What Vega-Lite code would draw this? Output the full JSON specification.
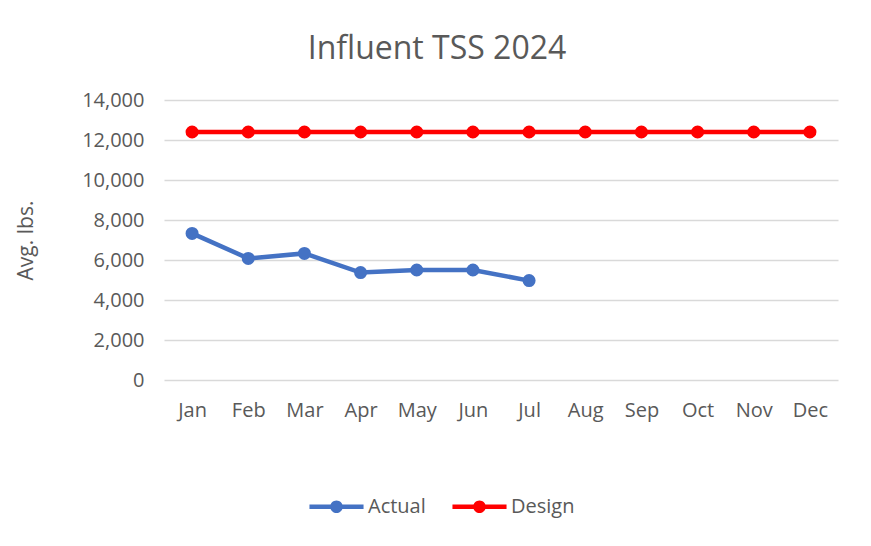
{
  "$schema": "https://vega.github.io/schema/vega-lite/v6.json",
  "width": 674,
  "height": 280,
  "autosize": {"type": "none"},
  "padding": {"left": 164, "top": 100, "right": 33, "bottom": 166},
  "background": "white",
  "title": {
    "text": "Influent TSS 2024",
    "font": "Open Sans",
    "fontSize": 32,
    "fontWeight": "normal",
    "color": "#595959",
    "anchor": "middle",
    "offset": 24,
    "dx": -64
  },
  "data": {
    "values": [
      {"month": "Jan", "series": "Actual", "value": 7330},
      {"month": "Feb", "series": "Actual", "value": 6080},
      {"month": "Mar", "series": "Actual", "value": 6330},
      {"month": "Apr", "series": "Actual", "value": 5370},
      {"month": "May", "series": "Actual", "value": 5500},
      {"month": "Jun", "series": "Actual", "value": 5500},
      {"month": "Jul", "series": "Actual", "value": 4970},
      {"month": "Jan", "series": "Design", "value": 12400},
      {"month": "Feb", "series": "Design", "value": 12400},
      {"month": "Mar", "series": "Design", "value": 12400},
      {"month": "Apr", "series": "Design", "value": 12400},
      {"month": "May", "series": "Design", "value": 12400},
      {"month": "Jun", "series": "Design", "value": 12400},
      {"month": "Jul", "series": "Design", "value": 12400},
      {"month": "Aug", "series": "Design", "value": 12400},
      {"month": "Sep", "series": "Design", "value": 12400},
      {"month": "Oct", "series": "Design", "value": 12400},
      {"month": "Nov", "series": "Design", "value": 12400},
      {"month": "Dec", "series": "Design", "value": 12400}
    ]
  },
  "mark": {"type": "line", "strokeWidth": 4.5, "point": {"size": 170, "filled": true, "opacity": 1}},
  "encoding": {
    "x": {
      "field": "month",
      "type": "ordinal",
      "sort": ["Jan","Feb","Mar","Apr","May","Jun","Jul","Aug","Sep","Oct","Nov","Dec"],
      "scale": {"paddingInner": 0, "paddingOuter": 0.5},
      "axis": {
        "title": null,
        "labelAngle": 0,
        "labelFont": "Open Sans",
        "labelFontSize": 20,
        "labelColor": "#595959",
        "labelPadding": 20,
        "domain": false,
        "ticks": false,
        "grid": false
      }
    },
    "y": {
      "field": "value",
      "type": "quantitative",
      "scale": {"domain": [0, 14000]},
      "axis": {
        "title": "Avg. lbs.",
        "titleFont": "Open Sans",
        "titleFontSize": 21,
        "titleFontWeight": "normal",
        "titleColor": "#595959",
        "titlePadding": 45,
        "values": [0,2000,4000,6000,8000,10000,12000,14000],
        "format": ",.0f",
        "labelFont": "Open Sans",
        "labelFontSize": 20,
        "labelColor": "#595959",
        "labelPadding": 20,
        "domain": false,
        "ticks": false,
        "gridColor": "#d9d9d9",
        "gridWidth": 1.5
      }
    },
    "color": {
      "field": "series",
      "type": "nominal",
      "scale": {"domain": ["Actual", "Design"], "range": ["#4472c4", "#ff0000"]},
      "legend": {
        "title": null,
        "orient": "none",
        "legendX": 154,
        "legendY": 388,
        "direction": "horizontal",
        "symbolType": "M-1.5,-0.12L1.5,-0.12L1.5,0.12L-1.5,0.12Z M-0.35,0A0.35,0.35 0 1,1 0.35,0A0.35,0.35 0 1,1 -0.35,0Z",
        "symbolSize": 1300,
        "symbolStrokeWidth": 0,
        "symbolOpacity": 1,
        "labelFont": "Open Sans",
        "labelFontSize": 20,
        "labelColor": "#595959",
        "labelOffset": 13,
        "columnPadding": 26
      }
    }
  },
  "config": {"view": {"stroke": null}}
}
